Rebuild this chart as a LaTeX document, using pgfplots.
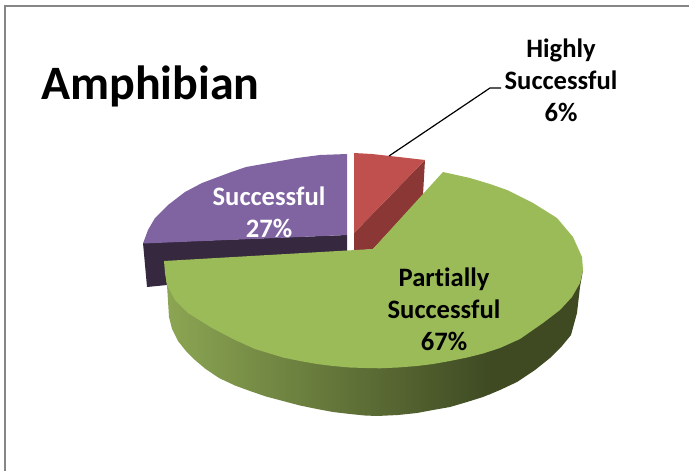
\documentclass[border=0pt]{standalone}
\usepackage{pgfplots}
\pgfplotsset{compat=1.18}
\usepackage{fontspec}
\setmainfont{Carlito}[Ligatures=NoCommon]
\definecolor{grn}{HTML}{9BBB59}
\definecolor{grnL}{HTML}{8CA653}
\definecolor{grnD}{HTML}{3F4A23}
\definecolor{vio}{HTML}{8064A2}
\definecolor{vioD}{HTML}{35283F}
\definecolor{redT}{HTML}{C0504D}
\definecolor{redD}{HTML}{8A3735}
\definecolor{frm}{HTML}{868686}
\begin{document}
\begin{tikzpicture}
\begin{axis}[scale only axis,width=689pt,height=471pt,xmin=0,xmax=689,ymin=0,ymax=471,y dir=reverse,hide axis,clip=true]
% background
\addplot[draw=none,fill=white,forget plot] coordinates {(0,0)(689,0)(689,471)(0,471)} -- cycle;
% frame
\addplot[frm,line width=2pt,forget plot] coordinates {(5,471)(5,6)(689,6)};
% violet side
\addplot[draw=none,fill=vioD,forget plot] coordinates {(143,243)(347,235)(347,252)(165,265)(167,285)(147,287)} -- cycle;
% violet top
\addplot[draw=none,fill=vio,forget plot] coordinates {(347,154)(320,155)(297,158)(280,161)(263,164)(246,167)(230,172.5)(218,177)(202,183)(185,192)(168,205)(155,218)(148,230)(143,243.5)(347,235)} -- cycle;
% red side
\addplot[draw=none,fill=redD,forget plot] coordinates {(354,233)(425,160)(423,195)(373,249)(354,251)} -- cycle;
% red top
\addplot[draw=none,fill=redT,forget plot] coordinates {(354,153)(372,154)(390,156)(425,160)(354,233)} -- cycle;
% green side, left part
\addplot[draw=none,left color=grnL,right color=grnD,forget plot] coordinates {(165,270)(490,270)(490,394.1)(483,397)(467,402)(450,407)(433,410)(417,413)(398,415)(377,416)(365,415.5)(350,414)(333,412)(317,409)(300,405.5)(283,401)(266,396.5)(250,391)(235,385.5)(219,378)(205,368.5)(195,360)(186,351)(178,341)(172,329)(169,317)(167,285)} -- cycle;
% green side, right part
\addplot[draw=none,fill=grnD,forget plot] coordinates {(489,270)(583,270)(580,287)(577,313)(571,335)(562,346)(550,358)(535,370)(517,382)(500,390)(489,394.6)} -- cycle;
% green top
\addplot[draw=none,fill=grn,forget plot] coordinates {(373,249)(164,261)(165,273)(167,285)(175,300)(188,313)(212,328)(235,340)(255,349)(283,357.5)(300,361)(317,364)(333,366)(350,367.5)(365,368)(380,368.3)(398,367.5)(417,366)(433,364)(450,361)(467,357.5)(483,353.5)(500,348)(520,339)(543,323)(560,310)(572,297)(580,283)(583,270)(582,257)(573,237)(557,218)(533,203)(507,190)(490,184)(470,178)(443,172)} -- cycle;
% leader
\addplot[black,line width=1.2pt,forget plot] coordinates {(389,156)(490,88)(501,88)};
\node[anchor=base west,font=\fontsize{48}{48}\selectfont\bfseries,inner sep=0] at (axis cs:41,99.5) {Amphibian};
\node[align=center,font=\fontsize{26.6}{32}\selectfont\bfseries,inner sep=0] at (axis cs:561,80.5) {Highly\\Successful\\6\%};
\node[align=center,font=\fontsize{26.6}{32}\selectfont\bfseries,inner sep=0] at (axis cs:444,309) {Partially\\Successful\\67\%};
\node[align=center,text=white,font=\fontsize{26.6}{32}\selectfont\bfseries,inner sep=0] at (axis cs:269,212) {Successful\\27\%};
\end{axis}
\end{tikzpicture}
\end{document}
